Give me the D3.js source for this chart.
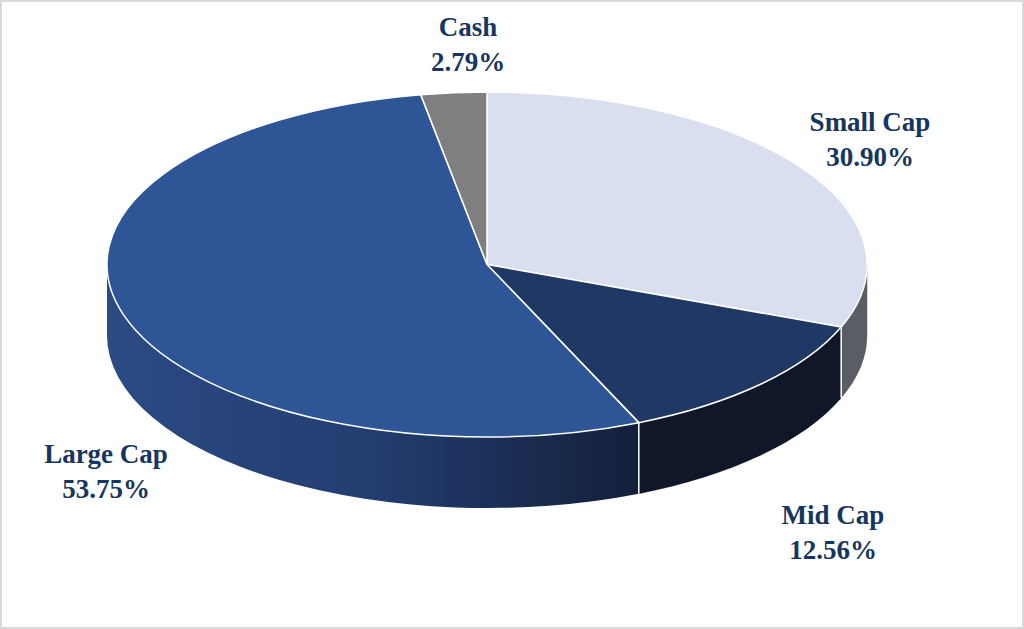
<!DOCTYPE html>
<html>
<head>
<meta charset="utf-8">
<script src="https://cdn.jsdelivr.net/npm/d3@7"></script>
<style>
  html, body { margin: 0; padding: 0; background: #fff; }
  svg { display: block; }
</style>
</head>
<body>
<svg id="chart" width="1024" height="629"></svg>
<script>
// slice order, clockwise from 12 o'clock
const categories = ["Small Cap", "Mid Cap", "Large Cap", "Cash"];
const values = [30.90, 12.56, 53.75, 2.79];
const topColors = ["#d9dfee", "#203864", "#2e5596", "#7f7f7f"];
const sideColors = ["#5a5d63", "#0f1729", "url(#largeSide)", "#5f5f5f"];

const svg = d3.select("#chart");
const width = +svg.attr("width");
const height = +svg.attr("height");

// outer frame
svg.append("rect")
    .attr("x", 1).attr("y", 1)
    .attr("width", width - 2).attr("height", height - 2)
    .attr("fill", "#fff")
    .attr("stroke", "#d9d9d9")
    .attr("stroke-width", 2);

const cx = 487, cy = 264.5;
const rx = 380, ry = 172.5;
const depth = 71;

const defs = svg.append("defs");
const grad = defs.append("linearGradient")
    .attr("id", "largeSide")
    .attr("gradientUnits", "userSpaceOnUse")
    .attr("x1", cx - rx).attr("y1", 0)
    .attr("x2", 640).attr("y2", 0);
grad.append("stop").attr("offset", "0%").attr("stop-color", "#2b4b83");
grad.append("stop").attr("offset", "50%").attr("stop-color", "#233d70");
grad.append("stop").attr("offset", "100%").attr("stop-color", "#131f3a");

const pie = d3.pie().sort(null).value(d => d);
const arcs = pie(values);

const px = a => cx + rx * Math.sin(a);
const py = (a, dz = 0) => cy - ry * Math.cos(a) + dz;

function topPath(d) {
    const large = d.endAngle - d.startAngle > Math.PI ? 1 : 0;
    return `M${cx},${cy}L${px(d.startAngle)},${py(d.startAngle)}` +
        `A${rx},${ry} 0 ${large} 1 ${px(d.endAngle)},${py(d.endAngle)}Z`;
}

// outer wall, only the front half (pi/2 .. 3pi/2) can be seen
function sidePath(d) {
    const a0 = Math.max(d.startAngle, Math.PI / 2);
    const a1 = Math.min(d.endAngle, Math.PI * 1.5);
    if (a1 <= a0) return null;
    const large = a1 - a0 > Math.PI ? 1 : 0;
    return `M${px(a0)},${py(a0)}` +
        `A${rx},${ry} 0 ${large} 1 ${px(a1)},${py(a1)}` +
        `L${px(a1)},${py(a1, depth)}` +
        `A${rx},${ry} 0 ${large} 0 ${px(a0)},${py(a0, depth)}Z`;
}

const sides = svg.append("g").attr("class", "sides");
sides.selectAll("path")
    .data(arcs.filter(d => sidePath(d)))
    .enter().append("path")
    .attr("d", sidePath)
    .attr("fill", d => sideColors[d.index])
    .attr("stroke", d => sideColors[d.index] === "url(#largeSide)" ? "none" : sideColors[d.index])
    .attr("stroke-width", 0.5);

// white edges where slices meet on the front wall
const edges = arcs.map(d => d.endAngle)
    .filter(a => a > Math.PI / 2 && a < Math.PI * 1.5);
sides.selectAll("line")
    .data(edges)
    .enter().append("line")
    .attr("x1", a => px(a)).attr("y1", a => py(a))
    .attr("x2", a => px(a)).attr("y2", a => py(a, depth))
    .attr("stroke", "#fff")
    .attr("stroke-width", 1.5);

svg.append("g").attr("class", "tops")
    .selectAll("path")
    .data(arcs)
    .enter().append("path")
    .attr("d", topPath)
    .attr("fill", d => topColors[d.index])
    .attr("stroke", "#fff")
    .attr("stroke-width", 1.5)
    .attr("stroke-linejoin", "round");

// labels
const labelPos = {
    "Small Cap": [870, 131],
    "Mid Cap": [833, 524],
    "Large Cap": [106, 463],
    "Cash": [468, 36]
};
const fmt = d3.format(".2f");

const labels = svg.append("g").attr("class", "labels")
    .selectAll("text")
    .data(arcs)
    .enter().append("text")
    .attr("x", d => labelPos[categories[d.index]][0])
    .attr("y", d => labelPos[categories[d.index]][1])
    .attr("text-anchor", "middle")
    .attr("fill", "#17365f")
    .style("font-family", "'Liberation Serif', 'DejaVu Serif', serif")
    .style("font-weight", "bold")
    .style("font-size", "27px");

labels.append("tspan")
    .text(d => categories[d.index]);
labels.append("tspan")
    .attr("x", d => labelPos[categories[d.index]][0])
    .attr("dy", 35)
    .text(d => fmt(d.data) + "%");
</script>
</body>
</html>
